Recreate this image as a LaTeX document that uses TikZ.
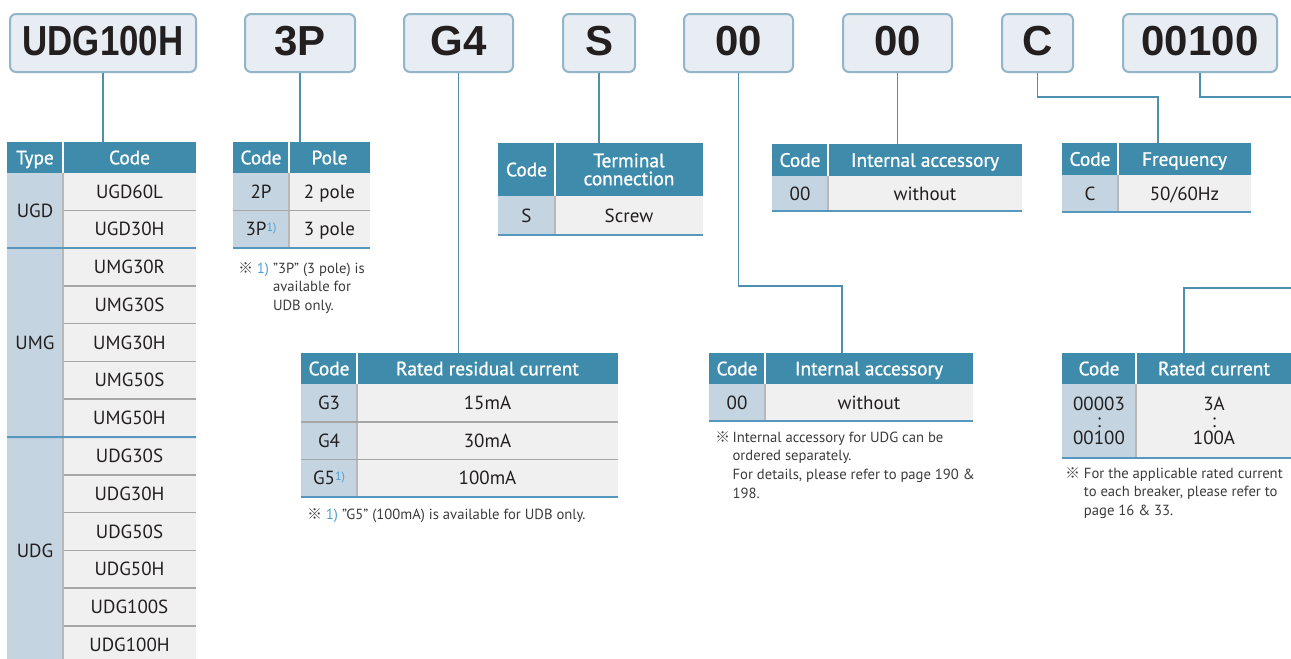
\documentclass[tikz,border=0pt]{standalone}
\usepackage{fontspec}
\usepackage{graphicx}
\setmainfont{PT Sans}
\newfontfamily\hdfont[FakeBold=1]{PT Sans}
\newfontfamily\topfont{Liberation Sans}
\newfontfamily\cjk{Noto Sans CJK JP}
\definecolor{hdr}{HTML}{3E8BAB}
\definecolor{codec}{HTML}{C4D4E0}
\definecolor{valc}{HTML}{F0F0F0}
\definecolor{sepgray}{HTML}{A6A6A6}
\definecolor{tealline}{HTML}{5597BD}
\definecolor{conn}{HTML}{4E8FAF}
\definecolor{boxfill}{HTML}{E7EDF2}
\definecolor{boxborder}{HTML}{93B5CA}
\definecolor{ink}{HTML}{231F20}
\definecolor{notegray}{HTML}{3C3C3C}
\definecolor{fnblue}{HTML}{4FA0D2}
\newcommand\cellbox[7]{\node[#6, minimum width={((#4)-(#2))*0.75pt}, minimum height={((#5)-(#3))*0.75pt}] (#1) at ({((#2)+(#4))/2},{((#3)+(#5))/2}) {#7};}
\newcommand\myfn{{\color{fnblue}\raisebox{3pt}{\fontsize{9}{9}\selectfont 1)}}}
\tikzset{
  basecell/.style={inner sep=0pt, outer sep=0pt, draw=none},
  hdrcell/.style={basecell, fill=hdr, text=white, font=\hdfont\fontsize{14.5}{13.5}\selectfont, text height=10.2pt, text depth=0pt},
  codecell/.style={basecell, fill=codec, text=ink, font=\fontsize{14.25}{12.75}\selectfont, text height=10pt, text depth=0pt},
  valcell/.style={basecell, fill=valc, text=ink, font=\fontsize{14.25}{12.75}\selectfont, text height=10pt, text depth=0pt},
  multi/.style={align=center, text height={}, text depth={}},
  topbox/.style={draw=boxborder, line width=1.5pt, fill=boxfill, rounded corners=4.5pt, inner sep=0pt, text=ink, font=\topfont\bfseries\fontsize{31.5}{31.5}\selectfont, text height=22.5pt, text depth=4.5pt},
  connline/.style={draw=conn, line width=1.1pt},
  rowsep/.style={draw=sepgray, line width=1.1pt},
  tealsep/.style={draw=tealline, line width=1.5pt},
  colsep/.style={draw=sepgray!80, line width=0.8pt},
  hdrsep/.style={draw=white, line width=0.8pt},
  notes/.style={inner sep=0pt, text=notegray, font=\fontsize{11}{14}\selectfont}
}
\begin{document}
\begin{tikzpicture}[x=0.75pt,y=-0.75pt]
\useasboundingbox (0,0) rectangle (1291,658);
\clip (0,0) rectangle (1291,658);
\fill[white] (0,0) rectangle (1291,658);
% ---- top code boxes
\cellbox{b1}{10}{14}{196}{72}{topbox}{\scalebox{0.83}[1]{UDG100H}}
\cellbox{b2}{245}{14}{355}{72}{topbox}{3P}
\cellbox{b3}{404}{14}{513}{72}{topbox}{G4}
\cellbox{b4}{563}{14}{635}{72}{topbox}{S}
\cellbox{b5}{684}{14}{793}{72}{topbox}{00}
\cellbox{b6}{843}{14}{952}{72}{topbox}{00}
\cellbox{b7}{1002}{14}{1073}{72}{topbox}{C}
\cellbox{b8}{1123}{14}{1277}{72}{topbox}{00100}
% ---- left type table
\cellbox{lth1}{7}{142}{63}{173}{hdrcell}{Type}
\cellbox{lth2}{63}{142}{196}{173}{hdrcell}{Code}
\cellbox{lty1}{7}{173}{63}{248}{codecell}{UGD}
\cellbox{lty2}{7}{248}{63}{437}{codecell}{UMG}
\cellbox{lty3}{7}{437}{63}{664}{codecell}{UDG}
\foreach \i/\ya/\yb/\t in {1/173/210.5/UGD60L, 2/210.5/248/UGD30H, 3/248/285.8/UMG30R, 4/285.8/323.6/UMG30S, 5/323.6/361.4/UMG30H, 6/361.4/399.2/UMG50S, 7/399.2/437/UMG50H, 8/437/474.8/UDG30S, 9/474.8/512.6/UDG30H, 10/512.6/550.4/UDG50S, 11/550.4/588.2/UDG50H, 12/588.2/626/UDG100S, 13/626/663.8/UDG100H}
  {\cellbox{lc\i}{63}{\ya}{196}{\yb}{valcell}{\t}}
\foreach \i in {1,3,4,5,6,8,9,10,11,12}
  {\draw[rowsep] (lc\i.south west) -- (lc\i.south east);}
\draw[colsep] (lty1.north east) -- (lty3.south east);
\draw[hdrsep] (lth1.north east) -- (lth1.south east);
\draw[tealsep] (lty1.south west) -- (lc2.south east);
\draw[tealsep] (lty2.south west) -- (lc7.south east);
% ---- pole table
\cellbox{ph1}{233}{142}{289}{173}{hdrcell}{Code}
\cellbox{ph2}{289}{142}{370}{173}{hdrcell}{Pole}
\cellbox{pc1}{233}{173}{289}{210.5}{codecell}{2P}
\cellbox{pv1}{289}{173}{370}{210.5}{valcell}{2 pole}
\cellbox{pc2}{233}{210.5}{289}{248}{codecell}{3P\myfn}
\cellbox{pv2}{289}{210.5}{370}{248}{valcell}{3 pole}
\draw[hdrsep] (ph1.north east) -- (ph1.south east);
\draw[colsep] (pc1.north east) -- (pc2.south east);
\draw[rowsep] (pc1.south west) -- (pv1.south east);
\draw[tealsep] (pc2.south west) -- (pv2.south east);
\node[notes, anchor=base west] (pnote) at (238,273) {\begin{tabular}[t]{@{}l@{\hspace{3pt}}l@{\hspace{3pt}}l@{}}{\cjk ※}&{\color{fnblue}1)}&"3P" (3 pole) is\\&&available for\\&&UDB only.\end{tabular}};
% ---- terminal table
\cellbox{th1}{498}{143}{555}{196}{hdrcell}{Code}
\cellbox{th2}{555}{143}{703}{196}{hdrcell,multi}{Terminal\\connection}
\cellbox{tc1}{498}{196}{555}{235}{codecell}{S}
\cellbox{tv1}{555}{196}{703}{235}{valcell}{Screw}
\draw[hdrsep] (th1.north east) -- (th1.south east);
\draw[colsep] (tc1.north east) -- (tc1.south east);
\draw[tealsep] (tc1.south west) -- (tv1.south east);
% ---- internal accessory (top)
\cellbox{iah1}{772}{144}{828}{176}{hdrcell}{Code}
\cellbox{iah2}{828}{144}{1022}{176}{hdrcell}{Internal accessory}
\cellbox{iac}{772}{176}{828}{211}{codecell}{00}
\cellbox{iav}{828}{176}{1022}{211}{valcell}{without}
\draw[hdrsep] (iah1.north east) -- (iah1.south east);
\draw[colsep] (iac.north east) -- (iac.south east);
\draw[tealsep] (iac.south west) -- (iav.south east);
% ---- frequency
\cellbox{fh1}{1062}{143}{1118}{175}{hdrcell}{Code}
\cellbox{fh2}{1118}{143}{1251}{175}{hdrcell}{Frequency}
\cellbox{fc}{1062}{175}{1118}{212}{codecell}{C}
\cellbox{fv}{1118}{175}{1251}{212}{valcell}{50/60Hz}
\draw[hdrsep] (fh1.north east) -- (fh1.south east);
\draw[colsep] (fc.north east) -- (fc.south east);
\draw[tealsep] (fc.south west) -- (fv.south east);
% ---- residual current
\cellbox{rh1}{301}{353}{357}{384}{hdrcell}{Code}
\cellbox{rh2}{357}{353}{618}{384}{hdrcell}{Rated residual current}
\cellbox{rc1}{301}{384}{357}{422}{codecell}{G3}
\cellbox{rv1}{357}{384}{618}{422}{valcell}{15mA}
\cellbox{rc2}{301}{422}{357}{459.5}{codecell}{G4}
\cellbox{rv2}{357}{422}{618}{459.5}{valcell}{30mA}
\cellbox{rc3}{301}{459.5}{357}{497}{codecell}{G5\myfn}
\cellbox{rv3}{357}{459.5}{618}{497}{valcell}{100mA}
\draw[hdrsep] (rh1.north east) -- (rh1.south east);
\draw[colsep] (rc1.north east) -- (rc3.south east);
\draw[rowsep] (rc1.south west) -- (rv1.south east);
\draw[rowsep] (rc2.south west) -- (rv2.south east);
\draw[tealsep] (rc3.south west) -- (rv3.south east);
\node[notes, anchor=base west] (rnote) at (307,519) {{\cjk ※}\hspace{3pt}{\color{fnblue}1)}\hspace{3pt}"G5" (100mA) is available for UDB only.};
% ---- internal accessory (lower)
\cellbox{ibh1}{709}{353}{765}{384}{hdrcell}{Code}
\cellbox{ibh2}{765}{353}{973}{384}{hdrcell}{Internal accessory}
\cellbox{ibc}{709}{384}{765}{421}{codecell}{00}
\cellbox{ibv}{765}{384}{973}{421}{valcell}{without}
\draw[hdrsep] (ibh1.north east) -- (ibh1.south east);
\draw[colsep] (ibc.north east) -- (ibc.south east);
\draw[tealsep] (ibc.south west) -- (ibv.south east);
\node[notes, anchor=base west] (ianote) at (715,442) {\begin{tabular}[t]{@{}l@{\hspace{2pt}}l@{}}{\cjk ※}&Internal accessory for UDG can be\\&ordered separately.\\&For details, please refer to page 190 \&\\&198.\end{tabular}};
% ---- rated current
\cellbox{qh1}{1062}{353}{1136}{384}{hdrcell}{Code}
\cellbox{qh2}{1136}{353}{1292}{384}{hdrcell}{Rated current}
\cellbox{qc}{1062}{384}{1136}{458}{codecell,multi}{00003\\:\\00100}
\cellbox{qv}{1136}{384}{1292}{458}{valcell,multi}{3A\\:\\100A}
\draw[hdrsep] (qh1.north east) -- (qh1.south east);
\draw[colsep] (qc.north east) -- (qc.south east);
\draw[tealsep] (qc.south west) -- (qv.south east);
\node[notes, anchor=base west] (qnote) at (1065,478) {\begin{tabular}[t]{@{}l@{\hspace{3pt}}l@{}}{\cjk ※}&For the applicable rated current\\&to each breaker, please refer to\\&page 16 \& 33.\end{tabular}};
% ---- connectors
\coordinate (k5) at (842,286);
\coordinate (kc) at (1158,97);
\coordinate (ke) at (1300,97);
\coordinate (kr) at (1300,288);
\coordinate (kr2) at (1184,288);
\draw[connline] (b1.south) -- (b1.south |- lth2.north);
\draw[connline] (b2.south) -- (b2.south |- ph2.north);
\draw[connline] (b3.south) -- (b3.south |- rh2.north);
\draw[connline] (b4.south) -- (b4.south |- th2.north);
\draw[connline] (b5.south) |- (k5) -- (k5 |- ibh2.north);
\draw[connline] (b6.south) -- (b6.south |- iah2.north);
\draw[connline] (b7.south) |- (kc) -- (kc |- fh2.north);
\draw[connline] (b8.south) |- (ke);
\draw[connline] (kr) -- (kr2) -- (kr2 |- qh2.north);
\end{tikzpicture}
\end{document}
